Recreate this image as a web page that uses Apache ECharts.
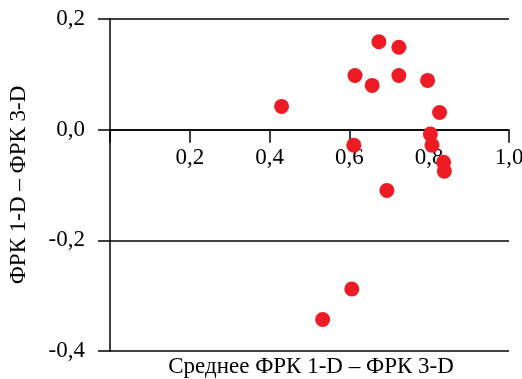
<!DOCTYPE html>
<html>
<head>
<meta charset="utf-8">
<script src="https://cdn.jsdelivr.net/npm/echarts@6/dist/echarts.min.js"></script>
<style>
  html, body { margin: 0; padding: 0; background: #fff; }
  #chart { width: 522px; height: 379px; }
</style>
</head>
<body>
<div id="chart"></div>
<script>
// Bland-Altman style points: mean vs difference
const meanValues = [0.43, 0.614, 0.674, 0.724, 0.657, 0.724, 0.796, 0.826, 0.803, 0.807, 0.611, 0.836, 0.838, 0.694, 0.606, 0.533];
const diffValues = [0.042, 0.098, 0.159, 0.149, 0.080, 0.098, 0.089, 0.031, -0.008, -0.028, -0.028, -0.059, -0.075, -0.110, -0.288, -0.343];

const xTicks = [0, 0.2, 0.4, 0.6, 0.8, 1.0];
const yTicks = [-0.4, -0.2, 0.0, 0.2];

const fontFamily = "'Liberation Serif', 'Times New Roman', serif";
const fontSize = 23;
const comma = v => v.toFixed(1).replace('.', ',');

const gridTop = 19, gridBottom = 28, chartH = 379;
// move the x axis up onto y = 0 (labels follow it, unlike onZero)
const plotH = chartH - gridTop - gridBottom;
const zeroFrac = (yTicks[yTicks.length - 1] - 0) / (yTicks[yTicks.length - 1] - yTicks[0]);
const xAxisOffset = -(plotH * (1 - zeroFrac));

const chart = echarts.init(document.getElementById('chart'));
chart.setOption({
  animation: false,
  grid: { left: 110, right: 13, top: gridTop, bottom: gridBottom, containLabel: false, outerBoundsMode: 'none' },
  title: {
    text: 'Среднее ФРК 1-D – ФРК 3-D',
    left: 311, top: 355, textAlign: 'center',
    textStyle: { fontFamily, fontSize, fontWeight: 'normal', color: '#000' },
    padding: 0
  },
  xAxis: {
    type: 'value',
    min: xTicks[0],
    max: xTicks[xTicks.length - 1],
    interval: 0.2,
    offset: xAxisOffset,
    axisLine: { onZero: false, lineStyle: { color: '#000', width: 1.5 } },
    axisTick: { show: true, length: 13, lineStyle: { color: '#000', width: 1.5 } },
    axisLabel: {
      fontFamily, fontSize, color: '#000', margin: 17,
      formatter: v => (v === 0 ? '' : comma(v))
    },
    splitLine: { show: false }
  },
  yAxis: {
    type: 'value',
    min: yTicks[0],
    max: yTicks[yTicks.length - 1],
    interval: 0.2,
    name: 'ФРК 1-D – ФРК 3-D',
    nameLocation: 'middle',
    nameGap: 80,
    nameTextStyle: { fontFamily, fontSize, color: '#000' },
    axisLine: { show: true, onZero: false, lineStyle: { color: '#000', width: 1.5 } },
    axisTick: { show: true, length: 12, lineStyle: { color: '#000', width: 1.5 } },
    axisLabel: {
      fontFamily, fontSize, color: '#000', margin: 25,
      formatter: v => comma(v)
    },
    splitLine: { show: true, lineStyle: { color: '#000', width: 1.5 } }
  },
  series: [{
    type: 'scatter',
    symbol: 'circle',
    symbolSize: 15,
    itemStyle: { color: '#ED1C24', opacity: 1 },
    data: meanValues.map((x, i) => [x, diffValues[i]])
  }]
});
</script>
</body>
</html>
